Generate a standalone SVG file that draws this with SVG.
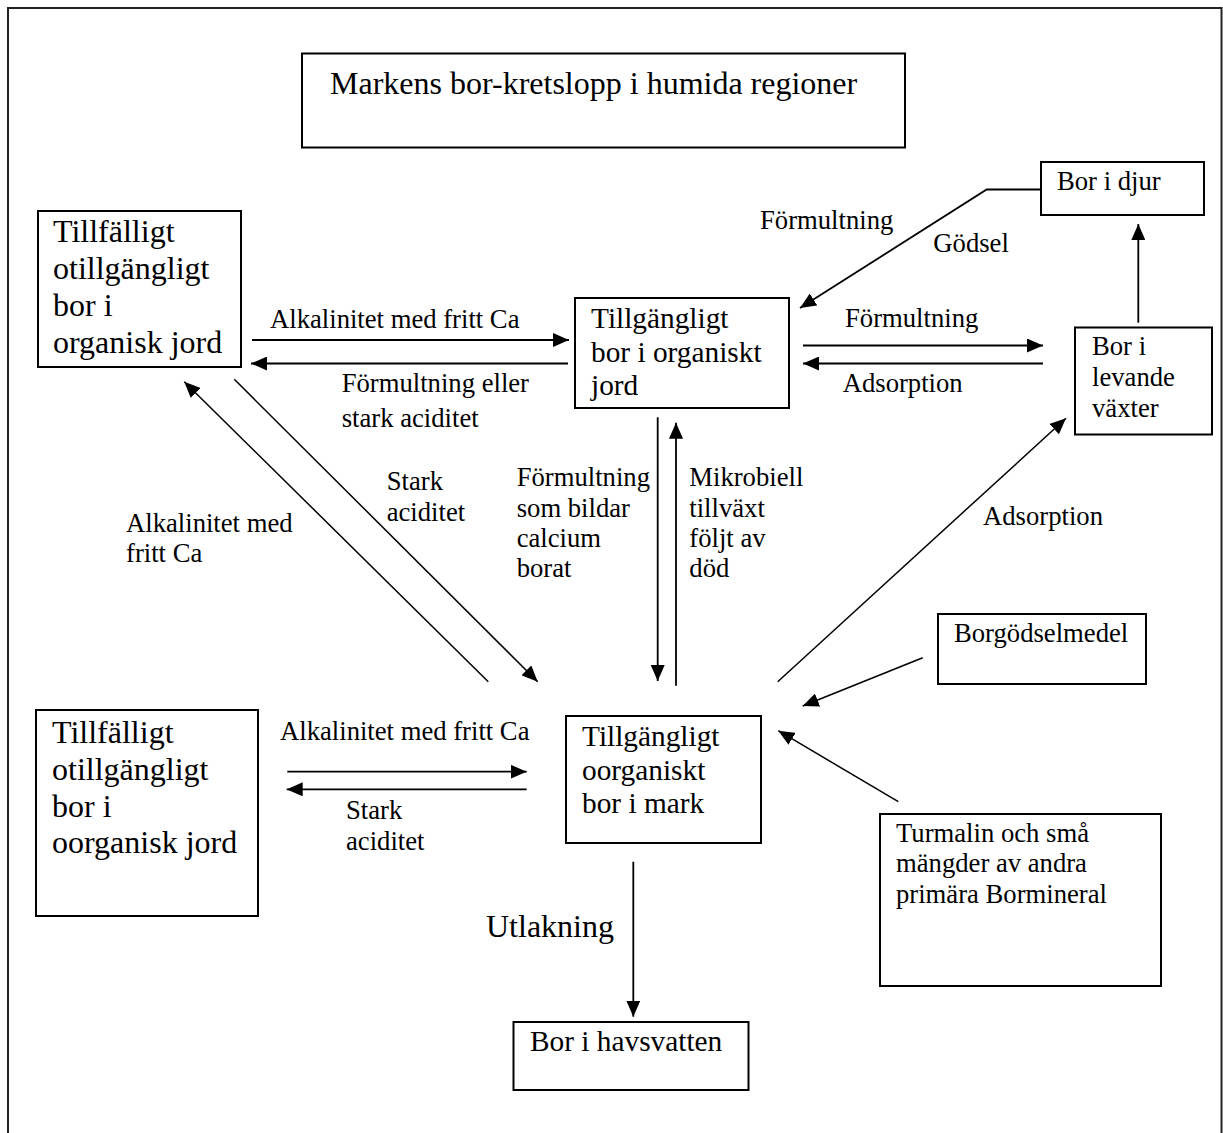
<svg xmlns="http://www.w3.org/2000/svg" width="1223" height="1133" viewBox="0 0 1223 1133">
<defs>
<style>
text{font-family:"Liberation Serif","Times New Roman",serif;fill:#000}
.b{fill:#fff;stroke:#000;stroke-width:2}
.t32{font-size:32px}
.t29{font-size:29.33px}
.t27{font-size:26.67px}
.c{fill:none;stroke:#000;stroke-width:1.8}
.d{fill:none;stroke:#000;stroke-width:1.5}
</style>
<marker id="ah" markerUnits="userSpaceOnUse" markerWidth="16" markerHeight="14" refX="16" refY="7" orient="auto">
<path d="M0,0 L16,7 L0,14 z" fill="#000"/>
</marker>
</defs>
<rect x="0" y="0" width="1223" height="1133" fill="#fff"/>
<rect x="8" y="8" width="1213.5" height="1140" fill="none" stroke="#222" stroke-width="2"/>

<g id="title">
<rect class="b" x="302" y="53.5" width="603" height="94"/>
<text class="t32" x="330" y="94">Markens bor-kretslopp i humida regioner</text>
</g>

<g id="n-too-organisk">
<rect class="b" x="38" y="211" width="203" height="156"/>
<text class="t32" x="53" y="242">Tillfälligt</text>
<text class="t32" x="53" y="279">otillgängligt</text>
<text class="t32" x="53" y="316">bor i</text>
<text class="t32" x="53" y="353">organisk jord</text>
</g>

<g id="n-tb-organiskt">
<rect class="b" x="575" y="298" width="214" height="110"/>
<text class="t29" x="591" y="328">Tillgängligt</text>
<text class="t29" x="591" y="361.5">bor i organiskt</text>
<text class="t29" x="591" y="395">jord</text>
</g>

<g id="n-djur">
<rect class="b" x="1041" y="162" width="163" height="53"/>
<text class="t27" x="1057" y="190">Bor i djur</text>
</g>

<g id="n-vaxter">
<rect class="b" x="1075" y="327.5" width="137" height="107"/>
<text class="t27" x="1092" y="355">Bor i</text>
<text class="t27" x="1092" y="385.5">levande</text>
<text class="t27" x="1092" y="416.5">växter</text>
</g>

<g id="n-too-oorganisk">
<rect class="b" x="36" y="710" width="222" height="206"/>
<text class="t32" x="52" y="743">Tillfälligt</text>
<text class="t32" x="52" y="780">otillgängligt</text>
<text class="t32" x="52" y="816.5">bor i</text>
<text class="t32" x="52" y="853">oorganisk jord</text>
</g>

<g id="n-tb-oorganiskt">
<rect class="b" x="566" y="716" width="195" height="127"/>
<text class="t29" x="582" y="746">Tillgängligt</text>
<text class="t29" x="582" y="779.5">oorganiskt</text>
<text class="t29" x="582" y="813">bor i mark</text>
</g>

<g id="n-borgodsel">
<rect class="b" x="938" y="614" width="208" height="70"/>
<text class="t27" x="954" y="641.5">Borgödselmedel</text>
</g>

<g id="n-turmalin">
<rect class="b" x="880" y="814" width="281" height="172"/>
<text class="t27" x="896" y="841.5">Turmalin och små</text>
<text class="t27" x="896" y="872">mängder av andra</text>
<text class="t27" x="896" y="903">primära Bormineral</text>
</g>

<g id="n-havsvatten">
<rect class="b" x="513.5" y="1022" width="235" height="68"/>
<text class="t29" x="530" y="1050.5">Bor i havsvatten</text>
</g>

<g id="connectors">
<line class="c" x1="252" y1="340" x2="569" y2="340" marker-end="url(#ah)"/>
<line class="c" x1="568" y1="363.5" x2="251" y2="363.5" marker-end="url(#ah)"/>
<line class="c" x1="803" y1="345.5" x2="1043" y2="345.5" marker-end="url(#ah)"/>
<line class="c" x1="1043" y1="363.5" x2="803" y2="363.5" marker-end="url(#ah)"/>
<polyline class="c" points="1040,189.5 986.7,189.5 800,308" marker-end="url(#ah)"/>
<line class="c" x1="1138.3" y1="322.7" x2="1138.3" y2="224" marker-end="url(#ah)"/>
<line class="c" x1="657.7" y1="417.3" x2="657.7" y2="681" marker-end="url(#ah)"/>
<line class="c" x1="676" y1="685.7" x2="676" y2="422.7" marker-end="url(#ah)"/>
<line class="d" x1="488.3" y1="681.7" x2="184.3" y2="381.7" marker-end="url(#ah)"/>
<line class="d" x1="234.3" y1="379.3" x2="537.7" y2="681.7" marker-end="url(#ah)"/>
<line class="d" x1="777.7" y1="681.7" x2="1066" y2="418.3" marker-end="url(#ah)"/>
<line class="d" x1="922.7" y1="657.7" x2="802.7" y2="706" marker-end="url(#ah)"/>
<line class="d" x1="898.3" y1="801.7" x2="778.3" y2="730.7" marker-end="url(#ah)"/>
<line class="c" x1="287.3" y1="771.7" x2="526.7" y2="771.7" marker-end="url(#ah)"/>
<line class="c" x1="526.7" y1="789.3" x2="286.7" y2="789.3" marker-end="url(#ah)"/>
<line class="c" x1="633.3" y1="861.7" x2="633.3" y2="1016.7" marker-end="url(#ah)"/>
</g>

<g id="labels">
<text class="t27" x="270" y="327.7">Alkalinitet med fritt Ca</text>
<text class="t27" x="341.7" y="391.7">Förmultning eller</text>
<text class="t27" x="341.7" y="426.7">stark aciditet</text>
<text class="t27" x="760" y="229.3">Förmultning</text>
<text class="t27" x="933.3" y="251.7">Gödsel</text>
<text class="t27" x="845" y="327.3">Förmultning</text>
<text class="t27" x="842.7" y="391.7">Adsorption</text>
<text class="t27" x="386.7" y="490">Stark</text>
<text class="t27" x="386.7" y="520.7">aciditet</text>
<text class="t27" x="126" y="531.7">Alkalinitet med</text>
<text class="t27" x="126" y="561.7">fritt Ca</text>
<text class="t27" x="516.7" y="486">Förmultning</text>
<text class="t27" x="516.7" y="516.7">som bildar</text>
<text class="t27" x="516.7" y="546.7">calcium</text>
<text class="t27" x="516.7" y="576.7">borat</text>
<text class="t27" x="689.3" y="486">Mikrobiell</text>
<text class="t27" x="689.3" y="516.7">tillväxt</text>
<text class="t27" x="689.3" y="546.7">följt av</text>
<text class="t27" x="689.3" y="576.7">död</text>
<text class="t27" x="983" y="524.5">Adsorption</text>
<text class="t27" x="280" y="740">Alkalinitet med fritt Ca</text>
<text class="t27" x="346" y="819.3">Stark</text>
<text class="t27" x="346" y="850">aciditet</text>
<text class="t32" x="486" y="937.3">Utlakning</text>
</g>
</svg>
